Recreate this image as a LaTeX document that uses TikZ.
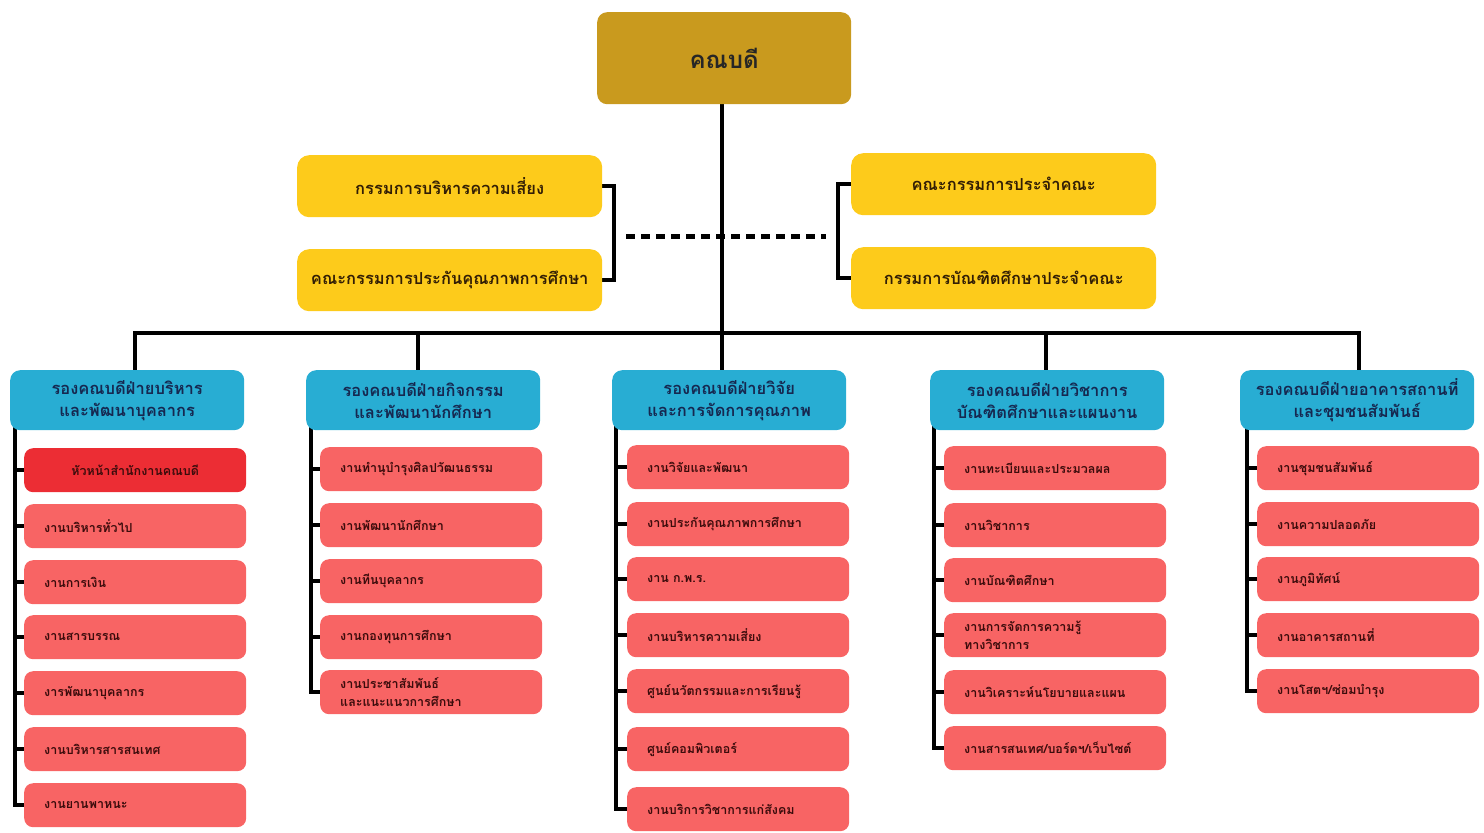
\documentclass[tikz,border=0pt]{standalone}
\usepackage{fontspec}
\usepackage{xcolor}
\usepackage{tikz}
\usetikzlibrary{backgrounds}
\newfontfamily\thaifont[Script=Thai]{Loma}

\definecolor{deangold}{RGB}{201,154,30}
\definecolor{boardyellow}{RGB}{253,203,27}
\definecolor{headblue}{RGB}{40,173,211}
\definecolor{unitred}{RGB}{248,100,100}
\definecolor{chiefred}{RGB}{236,45,52}
\definecolor{headnavy}{RGB}{22,40,80}
\definecolor{unitink}{RGB}{60,12,12}
\definecolor{boardink}{RGB}{50,30,5}

\tikzset{
  deanbox/.style={rounded corners=10pt, fill=deangold, anchor=north west, minimum width=254pt, minimum height=92pt, font=\thaifont\bfseries\fontsize{24}{28}\selectfont, text=black!85},
  boardbox/.style={rounded corners=12pt, fill=boardyellow, anchor=north west, minimum width=305pt, minimum height=62pt, font=\thaifont\bfseries\fontsize{16.5}{20}\selectfont, text=boardink},
  headbox/.style={rounded corners=10pt, fill=headblue, anchor=north west, minimum width=234pt, minimum height=60pt, align=center, font=\thaifont\bfseries\fontsize{16.5}{22}\selectfont, text=headnavy},
  unitbox/.style={rounded corners=9pt, fill=unitred, anchor=north west, inner xsep=20pt, text width=182pt, minimum height=44pt, align=left, font=\thaifont\bfseries\fontsize{12.5}{18}\selectfont, text=unitink},
  chiefbox/.style={unitbox, fill=chiefred, align=center},
  link/.style={line width=4pt, black},
}

\begin{document}
\begin{tikzpicture}[x=1pt,y=1pt,yscale=-1,xscale=1]

\useasboundingbox (0,0) rectangle (1484,833);

% dean and boards
\node[deanbox] (dean) at (597,12) {คณบดี};
\node[boardbox] (rskc) at (297,155) {กรรมการบริหารความเสี่ยง};
\node[boardbox] (qac) at (297,249) {คณะกรรมการประกันคุณภาพการศึกษา};
\node[boardbox] (fcc) at (851,153) {คณะกรรมการประจำคณะ};
\node[boardbox] (gsc) at (851,247) {กรรมการบัณฑิตศึกษาประจำคณะ};

% deputy deans
\node[headbox] (head1) at (10,370) {รองคณบดีฝ่ายบริหาร\\และพัฒนาบุคลากร};
\node[headbox] (head2) at (306,370) {รองคณบดีฝ่ายกิจกรรม\\และพัฒนานักศึกษา};
\node[headbox] (head3) at (612,370) {รองคณบดีฝ่ายวิจัย\\และการจัดการคุณภาพ};
\node[headbox] (head4) at (930,370) {รองคณบดีฝ่ายวิชาการ\\บัณฑิตศึกษาและแผนงาน};
\node[headbox] (head5) at (1240,370) {รองคณบดีฝ่ายอาคารสถานที่\\และชุมชนสัมพันธ์};

% column 1
\node[chiefbox] (u1a) at (24,448) {หัวหน้าสำนักงานคณบดี};
\node[unitbox] (u1b) at (24,504) {งานบริหารทั่วไป};
\node[unitbox] (u1c) at (24,560) {งานการเงิน};
\node[unitbox] (u1d) at (24,615) {งานสารบรรณ};
\node[unitbox] (u1e) at (24,671) {งารพัฒนาบุคลากร};
\node[unitbox] (u1f) at (24,727) {งานบริหารสารสนเทศ};
\node[unitbox] (u1g) at (24,783) {งานยานพาหนะ};

% column 2
\node[unitbox] (u2a) at (320,447) {งานทำนุบำรุงศิลปวัฒนธรรม};
\node[unitbox] (u2b) at (320,503) {งานพัฒนานักศึกษา};
\node[unitbox] (u2c) at (320,559) {งานทีนบุคลากร};
\node[unitbox] (u2d) at (320,615) {งานกองทุนการศึกษา};
\node[unitbox] (u2e) at (320,670) {งานประชาสัมพันธ์\\และแนะแนวการศึกษา};

% column 3
\node[unitbox] (u3a) at (627,445) {งานวิจัยและพัฒนา};
\node[unitbox] (u3b) at (627,502) {งานประกันคุณภาพการศึกษา};
\node[unitbox] (u3c) at (627,557) {งาน ก.พ.ร.};
\node[unitbox] (u3d) at (627,613) {งานบริหารความเสี่ยง};
\node[unitbox] (u3e) at (627,669) {ศูนย์นวัตกรรมและการเรียนรู้};
\node[unitbox] (u3f) at (627,727) {ศูนย์คอมพิวเตอร์};
\node[unitbox] (u3g) at (627,787) {งานบริการวิชาการแก่สังคม};

% column 4
\node[unitbox] (u4a) at (944,446) {งานทะเบียนและประมวลผล};
\node[unitbox] (u4b) at (944,503) {งานวิชาการ};
\node[unitbox] (u4c) at (944,558) {งานบัณฑิตศึกษา};
\node[unitbox] (u4d) at (944,613) {งานการจัดการความรู้\\ทางวิชาการ};
\node[unitbox] (u4e) at (944,670) {งานวิเคราะห์นโยบายและแผน};
\node[unitbox] (u4f) at (944,726) {งานสารสนเทศ/บอร์ดฯ/เว็บไซต์};

% column 5
\node[unitbox] (u5a) at (1257,446) {งานชุมชนสัมพันธ์};
\node[unitbox] (u5b) at (1257,502) {งานความปลอดภัย};
\node[unitbox] (u5c) at (1257,557) {งานภูมิทัศน์};
\node[unitbox] (u5d) at (1257,613) {งานอาคารสถานที่};
\node[unitbox] (u5e) at (1257,669) {งานโสตฯ/ซ่อมบำรุง};

\coordinate (b1) at (135,333);
\coordinate (b2) at (418,333);
\coordinate (b3) at (722,333);
\coordinate (b4) at (1046,333);
\coordinate (b5) at (1359,333);
\coordinate (dotl) at (626,236);
\coordinate (dotr) at (826,236);

\begin{scope}[on background layer]
% trunk and bus
\draw[link] (dean.center -| b3) -- (b3);
\draw[link] (b1 |- head1.center) -- (b1) -- (b5) -- (b5 |- head5.center);
\draw[link] (b2) -- (b2 |- head2.center);
\draw[link] (b3) -- (b3 |- head3.center);
\draw[link] (b4) -- (b4 |- head4.center);

% board brackets
\draw[link] ([xshift=-6pt]rskc.east) -- ++(18,0) |- ([xshift=-6pt]qac.east);
\draw[link] ([xshift=6pt]fcc.west) -- ++(-19,0) |- ([xshift=6pt]gsc.west);
\draw[line width=5pt, dash pattern=on 9pt off 6pt] (dotl) -- (dotr);

% spines
\draw[link] ([xshift=5pt,yshift=-12pt]head1.south west) |- (u1g.west);
\draw[link] ([xshift=5pt,yshift=-12pt]head2.south west) |- (u2e.west);
\draw[link] ([xshift=4pt,yshift=-12pt]head3.south west) |- (u3g.west);
\draw[link] ([xshift=4pt,yshift=-12pt]head4.south west) |- (u4f.west);
\draw[link] ([xshift=7pt,yshift=-12pt]head5.south west) |- (u5e.west);
\foreach \u in {u1a,u1b,u1c,u1d,u1e,u1f,u2a,u2b,u2c,u2d,u3a,u3b,u3c,u3d,u3e,u3f,u4a,u4b,u4c,u4d,u4e,u5a,u5b,u5c,u5d}
  \draw[link] (\u.west) -- ++(-11,0);
\end{scope}

\end{tikzpicture}
\end{document}
